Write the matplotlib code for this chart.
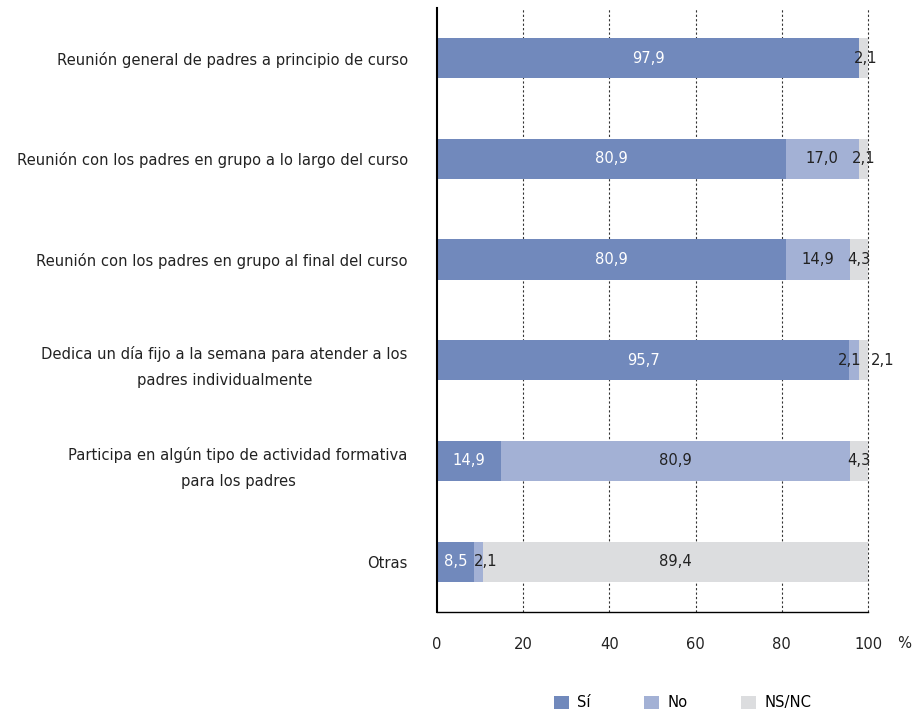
import numpy as np
import matplotlib.pyplot as plt

categories = [
    "Reunión general de padres a principio de curso",
    "Reunión con los padres en grupo a lo largo del curso",
    "Reunión con los padres en grupo al final del curso",
    "Dedica un día fijo a la semana para atender a los\npadres individualmente",
    "Participa en algún tipo de actividad formativa\npara los padres",
    "Otras",
]
si = [97.9, 80.9, 80.9, 95.7, 14.9, 8.5]
no = [0.0, 17.0, 14.9, 2.1, 80.9, 2.1]
nsnc = [2.1, 2.1, 4.3, 2.1, 4.3, 89.4]
series_names = ["Sí", "No", "NS/NC"]
xticks = [0, 20, 40, 60, 80, 100]

colors = ["#7189bc", "#a3b1d5", "#dcdddf"]
text_colors = ["white", "#222222", "#222222"]
# small nudges for crowded labels (row, series) -> x shift in data units
nudge = {(3, 2): 4.6, (3, 1): -1.0, (5, 1): 1.8, (0, 2): 0.6}
fs = 10.6

plt.rcParams['font.family'] = ['DejaVu Sans']
fig = plt.figure(figsize=(9.2, 7.15), dpi=100)
ax = fig.add_axes([0.475, 0.144, 0.4685, 0.845])

y = np.arange(len(categories))
left = np.zeros(len(categories))
for k, vals in enumerate([si, no, nsnc]):
    vals = np.array(vals)
    ax.barh(y, vals, left=left, height=0.4, color=colors[k],
            label=series_names[k], zorder=2)
    for i, v in enumerate(vals):
        if v <= 0:
            continue
        xc = left[i] + v / 2 + nudge.get((i, k), 0)
        ax.text(xc, y[i], f"{v:.1f}".replace(".", ","), ha="center",
                va="center", color=text_colors[k], fontsize=fs, zorder=3)
    left = left + vals

ax.set_xlim(0, 100)
ax.set_ylim(len(categories) - 0.5, -0.5)
ax.set_xticks(xticks)
ax.set_xticklabels([str(t) for t in xticks], fontsize=fs, color="#222222")
ax.tick_params(axis="x", length=0, pad=18)
ax.set_yticks(y)
ax.set_yticklabels(categories, fontsize=fs, color="#222222",
                   multialignment="center", linespacing=1.9)
ax.tick_params(axis="y", length=0, pad=21)

for t in xticks[1:]:
    ax.axvline(t, color="#333333", linestyle=(0, (2, 2)), linewidth=0.8,
               zorder=1, clip_on=False)

for s in ["top", "right"]:
    ax.spines[s].set_visible(False)
ax.spines["left"].set_linewidth(1.5)
ax.spines["left"].set_zorder(4)
ax.spines["bottom"].set_linewidth(1.0)

ax.text(1.085, -0.052, "%", transform=ax.transAxes, ha="center", va="center",
        fontsize=fs, color="#222222")

fig.legend(loc="lower center", bbox_to_anchor=(0.742, -0.012), ncol=3, frameon=False,
           fontsize=fs, handlelength=1.0, handleheight=1.0, columnspacing=3.6,
           handletextpad=0.6)

fig.savefig("out.png", dpi=100)
